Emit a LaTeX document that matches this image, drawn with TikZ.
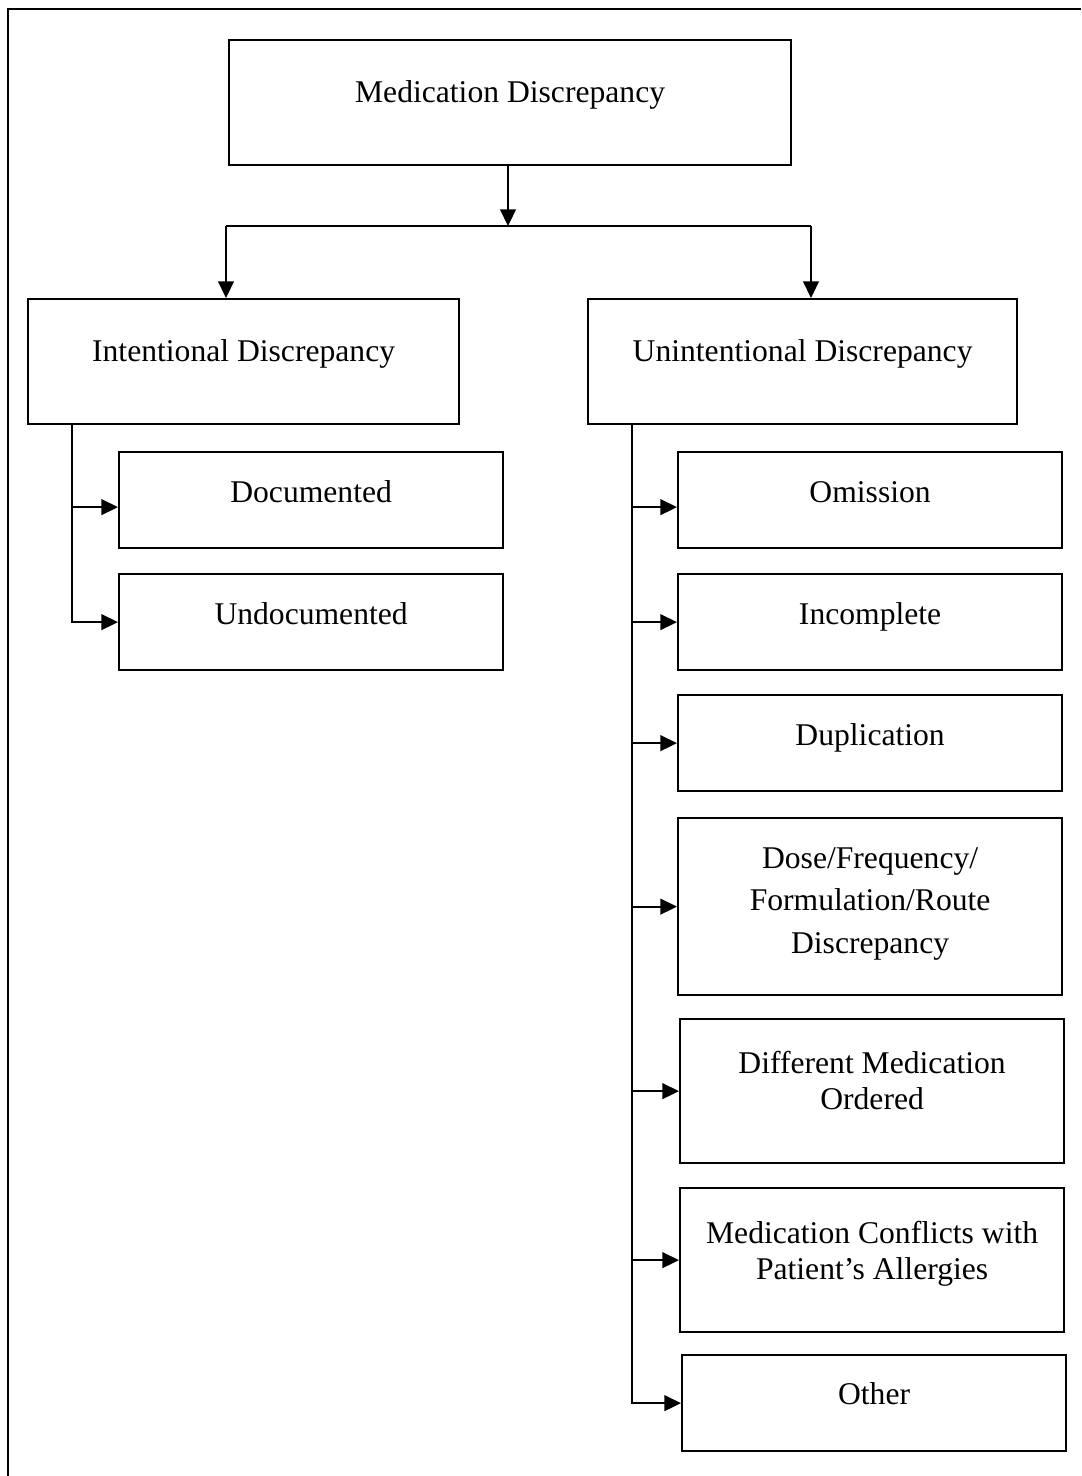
\documentclass[tikz,border=0pt]{standalone}
\usepackage{fontspec}
\setmainfont{Liberation Serif}
\usetikzlibrary{arrows.meta,positioning,calc}

\begin{document}
\begin{tikzpicture}[
		x=0.02cm,
		y=-0.02cm,
		>={Triangle[length=9.5pt,width=9pt]},
		line width=1pt,
		box/.style={draw, line width=1.3pt, anchor=north west, align=center,
			inner xsep=0pt, inner ysep=0pt, font=\fontsize{18}{20.5}\selectfont},
		big/.style={box, text height=1.25cm, text depth=1.25cm},
		leaf/.style={box, minimum width=7.68cm, text height=1.0cm, text depth=0.92cm}
	]

	\useasboundingbox (0,0) rectangle (1081,1476);
	\draw[line width=1.6pt] (8,1476) -- (8,9) -- (1081,9);

	\node[big, minimum width=11.24cm] (med) 	at (228,39) 	{Medication Discrepancy};
	\node[big, minimum width=8.62cm] (int) 		at (27,298) 	{Intentional Discrepancy};
	\node[big, minimum width=8.58cm] (unint) 	at (587,298) 	{Unintentional Discrepancy};

	\node[leaf] (doc) 		at (118,451) 	{Documented};
	\node[leaf] (undoc) 	at (118,573) 	{Undocumented};

	\node[leaf] (omis) 		at (677,451) 	{Omission};
	\node[leaf] (incomp) 	at (677,573) 	{Incomplete};
	\node[leaf] (dupl) 		at (677,694) 	{Duplication};
	% baseline of a multi-line box is its last line
	\node[leaf, text height=2.70cm, text depth=0.84cm, font=\fontsize{18}{24.2}\selectfont] (dose) at (677,817)
		{Dose/Frequency/\\Formulation/Route\\Discrepancy};
	\node[leaf, text height=1.80cm, text depth=1.08cm] (diff) 	at (679,1018) 	{Different Medication\\Ordered};
	\node[leaf, text height=1.82cm, text depth=1.06cm] (allerg) at (679,1187) 	{Medication Conflicts with\\Patient's Allergies};
	\node[leaf, text height=0.98cm, text depth=0.94cm] (other) 	at (681,1354) 	{Other};

	\coordinate (split) at (508,226);
	\coordinate (brl) 	at (226,226);
	\coordinate (brr) 	at (811,226);
	\coordinate (lbus) 	at (72,423);
	\coordinate (rbus) 	at (632,423);

	\draw[->] (med.south -| split) -- (split);
	\draw (brl) -- (brr);
	\draw[->] (brl) -- (brl |- int.north);
	\draw[->] (brr) -- (brr |- unint.north);

	\draw[->] (lbus) |- (undoc.west);
	\draw[->] (lbus |- doc.west) ++(0,7) -- ([yshift=-7*0.02cm]doc.west);

	\draw[->] (rbus) |- (other.west);
	\draw[->] (rbus |- omis.west) ++(0,7) -- ([yshift=-7*0.02cm]omis.west);
	\foreach \n in {incomp,dupl,dose,diff,allerg}
		\draw[->] (rbus |- \n.west) -- (\n.west);

\end{tikzpicture}
\end{document}
